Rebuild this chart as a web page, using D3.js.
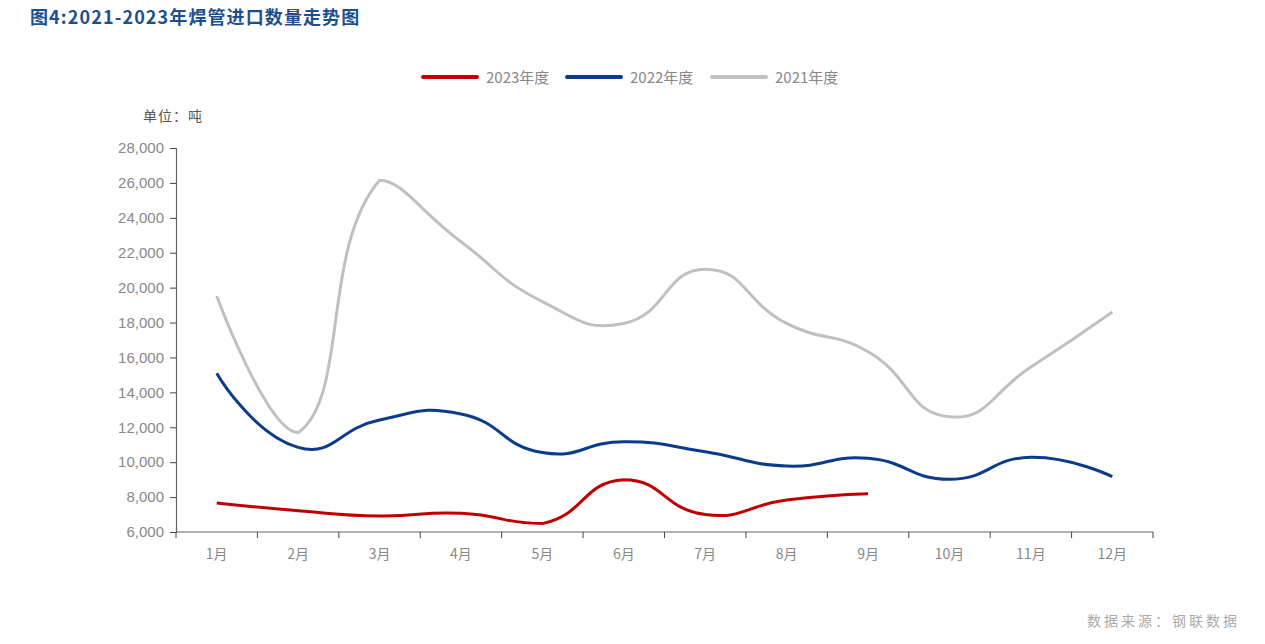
<!DOCTYPE html>
<html>
<head>
<meta charset="utf-8">
<script src="https://cdn.jsdelivr.net/npm/d3@7"></script>
<style>
  html, body { margin: 0; padding: 0; background: #fff; }
  svg { display: block; }
  text { font-family: "Noto Sans CJK SC", "Liberation Sans", sans-serif; }
</style>
</head>
<body>
<svg id="chart" width="1265" height="644"></svg>
<script>
const months = ["1月","2月","3月","4月","5月","6月","7月","8月","9月","10月","11月","12月"];
const seriesNames = ["2023年度","2022年度","2021年度"];
const values2023 = [7660, 7220, 6920, 7070, 6480, 9000, 7000, 7830, 8190];
const values2022 = [15100, 10850, 12420, 12760, 10550, 11170, 10600, 9780, 10220, 9020, 10280, 9170];
const values2021 = [19520, 11690, 26150, 22630, 19200, 17950, 21060, 17950, 16330, 12600, 15450, 18600];
const yTicks = [6000, 8000, 10000, 12000, 14000, 16000, 18000, 20000, 22000, 24000, 26000, 28000];
const colors = ["#c00000", "#0b3c8c", "#c0c0c0"];
const titleText = "图4:2021-2023年焊管进口数量走势图";
const unitText = "单位：吨";
const sourceText = "数据来源：钢联数据";

(function () {
const svg = d3.select("#chart");
const pLeft = 176, pRight = 1153, pTop = 148, pBottom = 532;

const x = d3.scaleBand().domain(months).range([pLeft, pRight]).padding(0);
const y = d3.scaleLinear().domain([6000, 28000]).range([pBottom, pTop]);

// ECharts-style smoothing (global bbox constraint)
function smoothCurve(context) {
  let pts = [];
  return {
    areaStart() {}, areaEnd() {},
    lineStart() { pts = []; },
    point(px, py) { pts.push([+px, +py]); },
    lineEnd() {
      if (!pts.length) return;
      const s = 0.5;
      const xs = pts.map(p => p[0]), ys = pts.map(p => p[1]);
      const mn = [Math.min(...xs), Math.min(...ys)], mx = [Math.max(...xs), Math.max(...ys)];
      const clamp = c => [Math.max(mn[0], Math.min(mx[0], c[0])), Math.max(mn[1], Math.min(mx[1], c[1]))];
      context.moveTo(pts[0][0], pts[0][1]);
      let cp0 = [pts[0][0], pts[0][1]];
      let v = [0, 0];
      for (let i = 1; i < pts.length; i++) {
        const p = pts[i], prev = pts[i - 1], next = pts[i + 1];
        let ratio = 0.5, ncp;
        if (!next) {
          ncp = [p[0], p[1]];
        } else {
          v = [next[0] - prev[0], next[1] - prev[1]];
          const l0 = Math.hypot(p[0] - prev[0], p[1] - prev[1]);
          const l1 = Math.hypot(next[0] - p[0], next[1] - p[1]);
          ratio = l1 / (l0 + l1);
          ncp = [p[0] - v[0] * s * (1 - ratio), p[1] - v[1] * s * (1 - ratio)];
        }
        const c0 = clamp(cp0), c1 = clamp(ncp);
        context.bezierCurveTo(c0[0], c0[1], c1[0], c1[1], p[0], p[1]);
        cp0 = [p[0] + v[0] * s * ratio, p[1] + v[1] * s * ratio];
      }
    }
  };
}

// Title
svg.append("text").attr("x", 30).attr("y", 24)
  .attr("fill", "#1d4f8f").attr("font-size", 18).attr("font-weight", "bold")
  .attr("letter-spacing", 1.1)
  .text(titleText);

// Unit
svg.append("text").attr("x", 143).attr("y", 121)
  .attr("fill", "#555").attr("font-size", 14).attr("letter-spacing", 1).text(unitText);

// Y axis
const yAxis = d3.axisLeft(y).tickValues(yTicks).tickSize(6).tickPadding(6)
  .tickFormat(d3.format(","));
const gy = svg.append("g").attr("transform", `translate(${pLeft},0)`).call(yAxis);
gy.select(".domain").attr("stroke", "#666").attr("stroke-width", 1.2);
gy.selectAll(".tick line").attr("stroke", "#444");
gy.selectAll(".tick text").attr("fill", "#888").attr("font-size", 15)
  .style("font-family", '"Liberation Sans", sans-serif');

// X axis (ticks at band boundaries)
const gx = svg.append("g").attr("transform", `translate(0,${pBottom})`);
gx.append("line").attr("x1", pLeft).attr("x2", pRight).attr("y1", 0).attr("y2", 0)
  .attr("stroke", "#666").attr("stroke-width", 1.2);
const bounds = months.map(m => x(m)).concat([x(months[months.length - 1]) + x.bandwidth()]);
gx.selectAll("line.tk").data(bounds).join("line").attr("class", "tk")
  .attr("x1", d => d).attr("x2", d => d).attr("y1", 0).attr("y2", 6)
  .attr("stroke", "#444");
gx.selectAll("text").data(months).join("text")
  .attr("x", d => x(d) + x.bandwidth() / 2).attr("y", 27)
  .attr("text-anchor", "middle").attr("fill", "#888").attr("font-size", 14)
  .text(d => d);

// Lines
const allSeries = [values2021, values2022, values2023];
const allColors = [colors[2], colors[1], colors[0]];
const line = d3.line()
  .x((d, i) => x(months[i]) + x.bandwidth() / 2)
  .y(d => y(d))
  .curve(smoothCurve);
allSeries.forEach((vals, k) => {
  svg.append("path").datum(vals)
    .attr("d", line).attr("fill", "none")
    .attr("stroke", allColors[k]).attr("stroke-width", 3)
    .attr("stroke-linejoin", "round").attr("stroke-linecap", "butt");
});

// Legend
const legendX = [423, 567, 712];
seriesNames.forEach((name, i) => {
  const g = svg.append("g").attr("transform", `translate(${legendX[i]},77)`);
  g.append("line").attr("x1", 0).attr("x2", 54).attr("y1", 0).attr("y2", 0)
    .attr("stroke", colors[i]).attr("stroke-width", 4).attr("stroke-linecap", "round");
  g.append("text").attr("x", 63).attr("y", 6).attr("fill", "#888").attr("font-size", 15)
    .text(name);
});

// Source
svg.append("text").attr("x", 1240).attr("y", 626).attr("text-anchor", "end")
  .attr("fill", "#aaa").attr("font-size", 14).attr("letter-spacing", 3)
  .text(sourceText);
})();
</script>
</body>
</html>
